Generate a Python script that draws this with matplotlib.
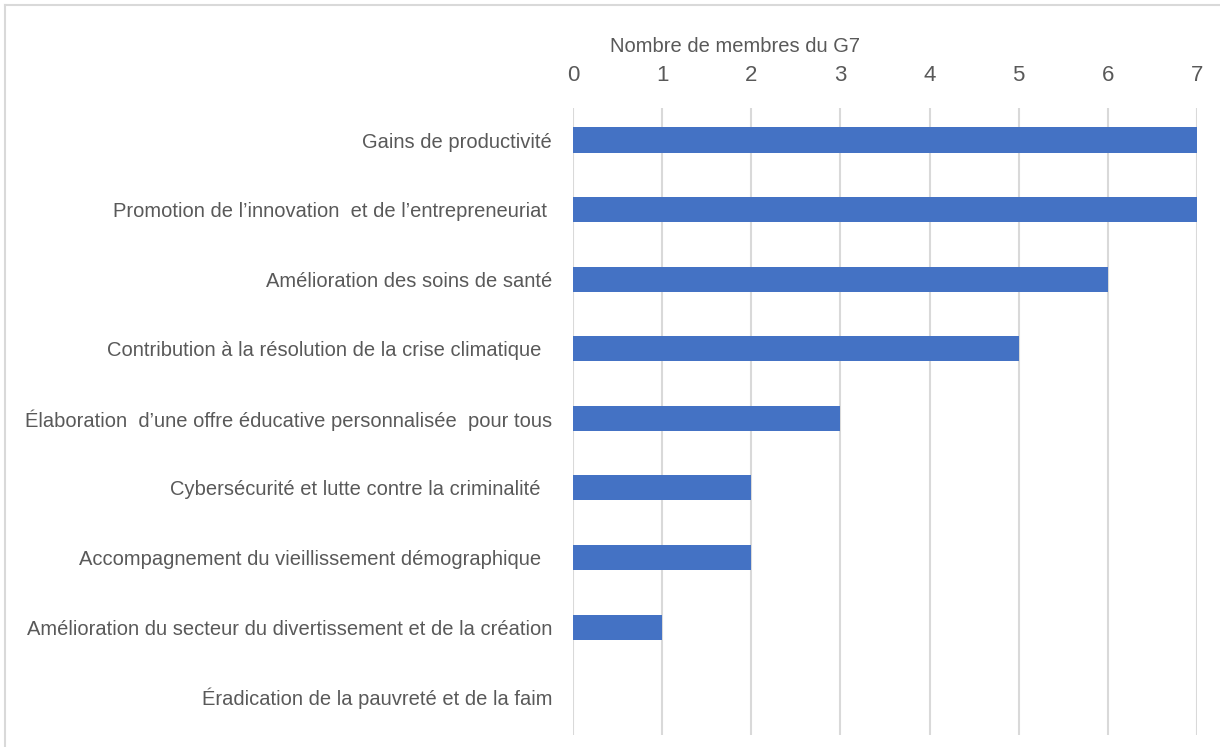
import matplotlib
matplotlib.use("Agg")
import matplotlib.pyplot as plt
from matplotlib.lines import Line2D

categories = [
    "Gains de productivité",
    "Promotion de l\u2019innovation  et de l\u2019entrepreneuriat ",
    "Amélioration des soins de santé",
    "Contribution à la résolution de la crise climatique  ",
    "Élaboration  d\u2019une offre éducative personnalisée  pour tous",
    "Cybersécurité et lutte contre la criminalité  ",
    "Accompagnement du vieillissement démographique  ",
    "Amélioration du secteur du divertissement et de la création",
    "Éradication de la pauvreté et de la faim",
]
values = [7, 7, 6, 5, 3, 2, 2, 1, 0]
xticks = [0, 1, 2, 3, 4, 5, 6, 7]
xlabel = "Nombre de membres du G7"

plt.rcParams['font.family'] = ['Liberation Sans', 'DejaVu Sans']

fig = plt.figure(figsize=(12.2, 7.47), dpi=100)
ax = fig.add_axes([573/1220, 1-735/747, (1197-573)/1220, (735-108)/747])

ypos = list(range(len(categories)))
ax.barh(ypos, values, height=0.36, color="#4472C4", zorder=3)
ax.set_ylim(8.55, -0.46)
ax.set_xlim(0, 7)
ax.set_yticks(ypos)
ax.set_yticklabels(categories, fontsize=14.5, color="#595959")
ax.set_xticks(xticks)
ax.set_xticklabels([str(t) for t in xticks], fontsize=16, color="#595959")
ax.xaxis.tick_top()
ax.tick_params(axis='x', length=0, pad=16)
ax.tick_params(axis='y', length=0, pad=15)
ax.grid(axis='x', color="#d9d9d9", linewidth=1.5, zorder=0)
for s in ax.spines.values():
    s.set_visible(False)

fig.text(735/1220, 1-46/747, xlabel, fontsize=14.5, color="#595959", ha='center', va='center')

fig.add_artist(Line2D([5/1220, 1], [1-5/747, 1-5/747], color="#d9d9d9", lw=1.5, transform=fig.transFigure))
fig.add_artist(Line2D([5/1220, 5/1220], [0, 1-5/747], color="#d9d9d9", lw=1.5, transform=fig.transFigure))

fig.savefig("out.png", dpi=100)
